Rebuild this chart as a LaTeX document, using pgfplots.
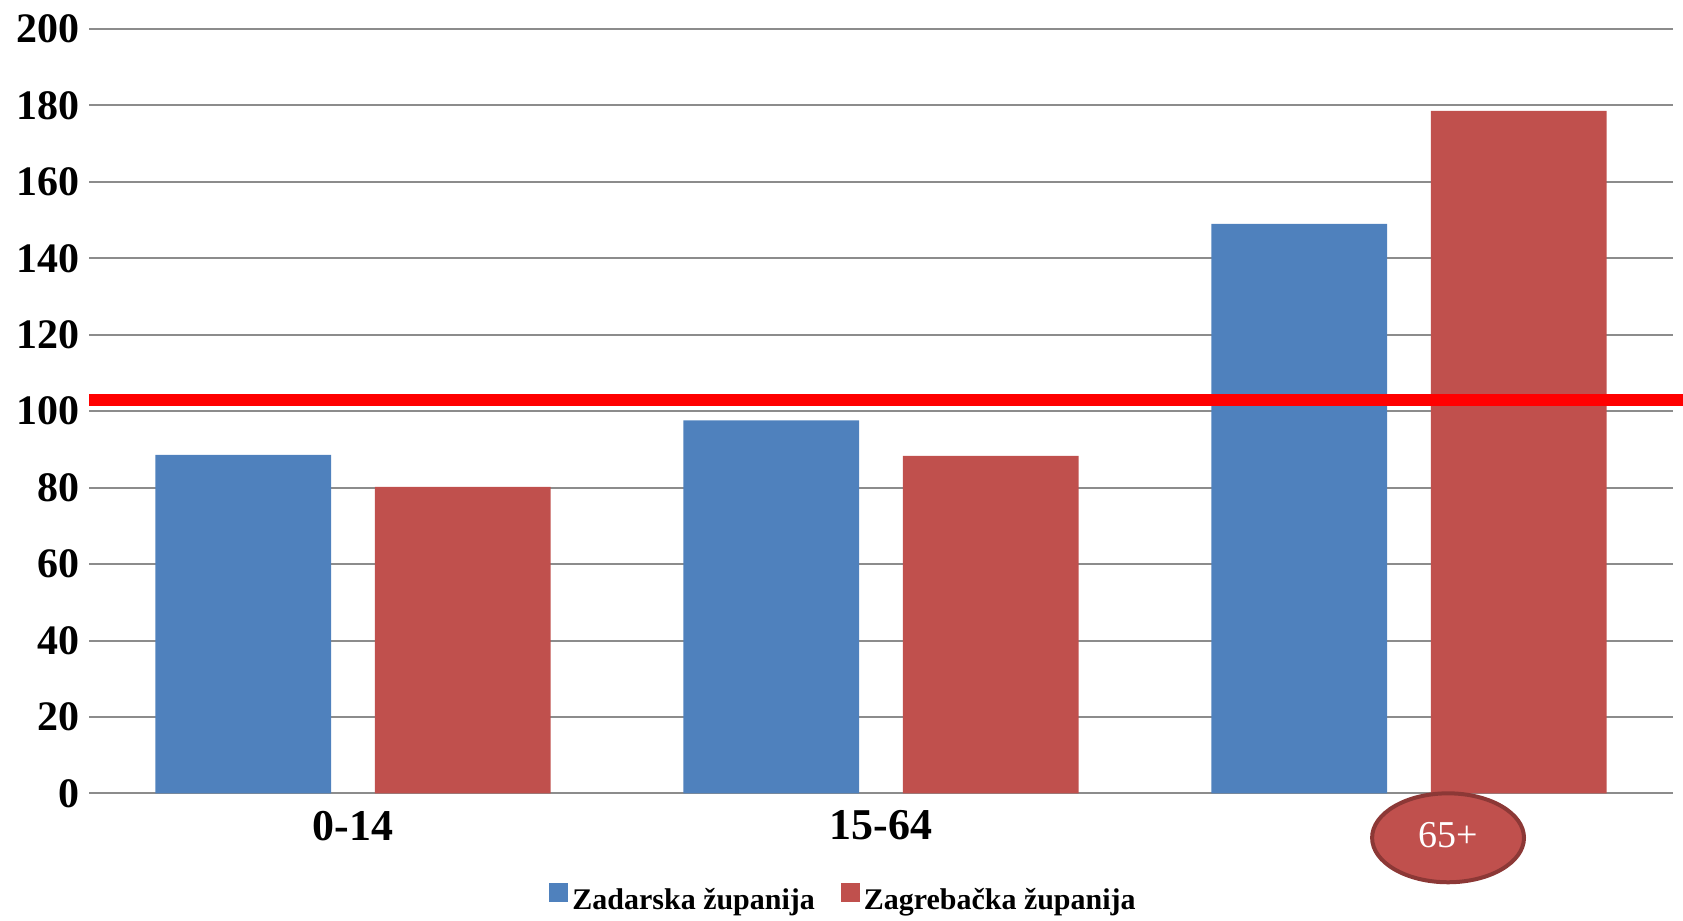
\documentclass[border=0pt]{standalone}
\usepackage{fontspec}
\setmainfont{Liberation Serif}
\usepackage{pgfplots}
\pgfplotsset{compat=1.18}
\definecolor{barblue}{HTML}{4F81BD}
\definecolor{barred}{HTML}{C0504D}
\definecolor{gridgray}{HTML}{8C8C8C}
\definecolor{ovalrim}{HTML}{8C3836}
\begin{document}
\begin{tikzpicture}
\begin{axis}[
  scale only axis, width=792.5pt, height=382.5pt,
  xmin=-0.5, xmax=2.5, ymin=0, ymax=200,
  clip=false,
  axis line style={draw=none},
  major tick length=0pt,
  ytick={0,20,...,200},
  ymajorgrids, grid style={gridgray, line width=1pt},
  xtick={0,1,2}, xticklabels={0-14,15-64,{}},
  /pgf/number format/assume math mode=true,
  yticklabel style={font=\bfseries\fontsize{21}{21}\selectfont, inner sep=0pt, xshift=-4.5pt},
  xticklabel style={font=\bfseries\fontsize{22}{22}\selectfont, inner sep=0pt, yshift=-8.5pt},
  legend columns=2,
  legend style={draw=none, fill=none, at={(0.477,-0.139)}, anchor=center,
    font=\bfseries\fontsize{15}{16}\selectfont,
    /tikz/every even column/.append style={column sep=11pt}},
]
% Zadarska
\addplot[ybar, fill=barblue, draw=none, bar width=0.333, bar shift=-0.208,
  legend image code/.code={\fill[barblue] (0pt,-1pt) rectangle (9.5pt,8.5pt);}]
  coordinates {(0,88.6) (1,97.6) (2,149.0)};
% Zagrebacka
\addplot[ybar, fill=barred, draw=none, bar width=0.333, bar shift=0.208,
  legend image code/.code={\fill[barred] (0pt,-1pt) rectangle (9.5pt,8.5pt);}]
  coordinates {(0,80.2) (1,88.3) (2,178.6)};
\legend{Zadarska županija, Zagrebačka županija}
% reference line, filled so it ends exactly at the page edge
\fill[red] ([yshift=-3pt]axis cs:-0.5,103) rectangle ([yshift=3pt]axis cs:2.519,103);
% 65+ label in oval
\draw[fill=barred, draw=ovalrim, line width=2pt] (axis cs:2.074,-11.6) ellipse [x radius=38pt, y radius=22.25pt];
\node[text=white, inner sep=0pt, font=\fontsize{19}{19}\selectfont] at (axis cs:2.074,-10.85) {65+};
% page extent
\path (axis cs:-0.6686,-31.37) rectangle (axis cs:2.519,207.58);
\end{axis}
\end{tikzpicture}
\end{document}
